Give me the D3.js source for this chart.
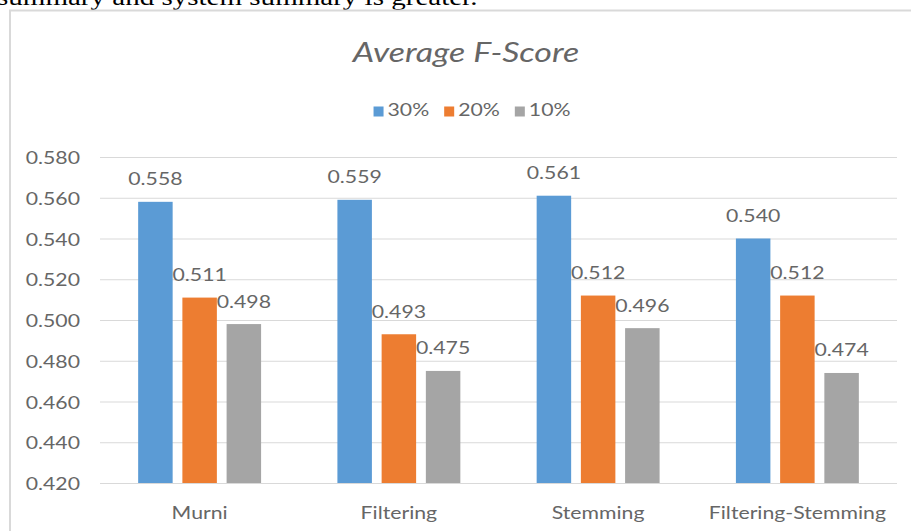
<!DOCTYPE html>
<html>
<head>
<meta charset="utf-8">
<script src="https://cdn.jsdelivr.net/npm/d3@7"></script>
<style>
  body { margin: 0; background: #fff; }
  svg { display: block; }
  text { font-family: Lato, "Open Sans", sans-serif; font-weight: normal; fill: #666; }
</style>
</head>
<body>
<svg id="chart"></svg>
<script>
const W = 911, H = 531;

// data
const categories = ["Murni", "Filtering", "Stemming", "Filtering-Stemming"];
const seriesNames = ["30%", "20%", "10%"];
const values30 = [0.558, 0.559, 0.561, 0.540];
const values20 = [0.511, 0.493, 0.512, 0.512];
const values10 = [0.498, 0.475, 0.496, 0.474];
const yTicks = [0.42, 0.44, 0.46, 0.48, 0.50, 0.52, 0.54, 0.56, 0.58];
const colors = ["#5B9BD5", "#ED7D31", "#A5A5A5"];

const allValues = [values30, values20, values10];
const rows = categories.map((c, i) => ({
  cat: c,
  vals: seriesNames.map((s, j) => ({ key: s, value: allValues[j][i], color: colors[j] }))
}));

const SX = 1.18; // picture text is a bit wide

const svg = d3.select("#chart").attr("width", W).attr("height", H);

function stretchText(g, x, y, str, anchor, sx) {
  return g.append("text")
    .attr("transform", `translate(${x},${y}) scale(${sx || SX},1)`)
    .attr("text-anchor", anchor || "middle")
    .text(str);
}

// clipped sentence of the surrounding document
svg.append("text")
  .attr("transform", "translate(-3,4.5) scale(1.21,1)")
  .style("font-family", "'Liberation Serif', 'Times New Roman', serif")
  .style("font-size", "24px")
  .style("fill", "#000")
  .text("summary and system summary is greater.");

// chart frame
svg.append("path")
  .attr("d", `M10,${H} V10.5 H${W}`)
  .attr("fill", "none")
  .attr("stroke", "#D9D9D9")
  .attr("stroke-width", 2);

const x0 = d3.scaleBand()
  .domain(categories)
  .range([100, 897])
  .paddingInner(0.383)
  .paddingOuter(0.1915);

const x1 = d3.scaleBand()
  .domain(seriesNames)
  .range([0, x0.bandwidth()])
  .paddingInner(0.22);

const y = d3.scaleLinear()
  .domain([0.42, 0.58])
  .range([483, 157]);

// gridlines
const yAxis = d3.axisLeft(y)
  .tickValues(yTicks)
  .tickSize(-(897 - 100))
  .tickFormat(d3.format(".3f"));

const ag = svg.append("g").attr("transform", "translate(100,0)").call(yAxis);
ag.select(".domain").remove();
ag.selectAll(".tick line").attr("stroke", "#D9D9D9").attr("stroke-width", 1);
ag.selectAll(".tick text").remove();
ag.selectAll(".tick").each(function(d) {
  stretchText(d3.select(this), -20, 6.5, d3.format(".3f")(d), "end").style("font-size", "18px");
});

// bars
const groups = svg.append("g").selectAll("g")
  .data(rows)
  .join("g")
  .attr("transform", d => `translate(${x0(d.cat)},0)`);

groups.selectAll("rect")
  .data(d => d.vals)
  .join("rect")
  .attr("x", d => x1(d.key))
  .attr("y", d => y(d.value))
  .attr("width", x1.bandwidth())
  .attr("height", d => y(0.42) - y(d.value))
  .attr("fill", d => d.color);

groups.each(function(d) {
  const g = d3.select(this);
  d.vals.forEach(v => {
    stretchText(g, x1(v.key) + x1.bandwidth() / 2, y(v.value) - 16.5, d3.format(".3f")(v.value))
      .style("font-size", "18px");
  });
});

// category labels
categories.forEach(c => {
  stretchText(svg, x0(c) + x0.bandwidth() / 2, 519, c).style("font-size", "18px");
});

// title
stretchText(svg, 466, 62, "Average F-Score", "middle", 1.28)
  .style("font-size", "26.5px")
  .style("font-style", "italic");

// legend
const legend = svg.append("g");
let lx = 0;
seriesNames.forEach((s, i) => {
  legend.append("rect")
    .attr("x", lx).attr("y", 106.5)
    .attr("width", 10).attr("height", 10)
    .attr("fill", colors[i]);
  const tx = stretchText(legend, lx + 14, 116, s, "start").style("font-size", "18px");
  lx += 14 + tx.node().getComputedTextLength() * SX + 15;
});
const legendW = lx - 15;
legend.attr("transform", `translate(${472 - legendW / 2},0)`);
</script>
</body>
</html>
